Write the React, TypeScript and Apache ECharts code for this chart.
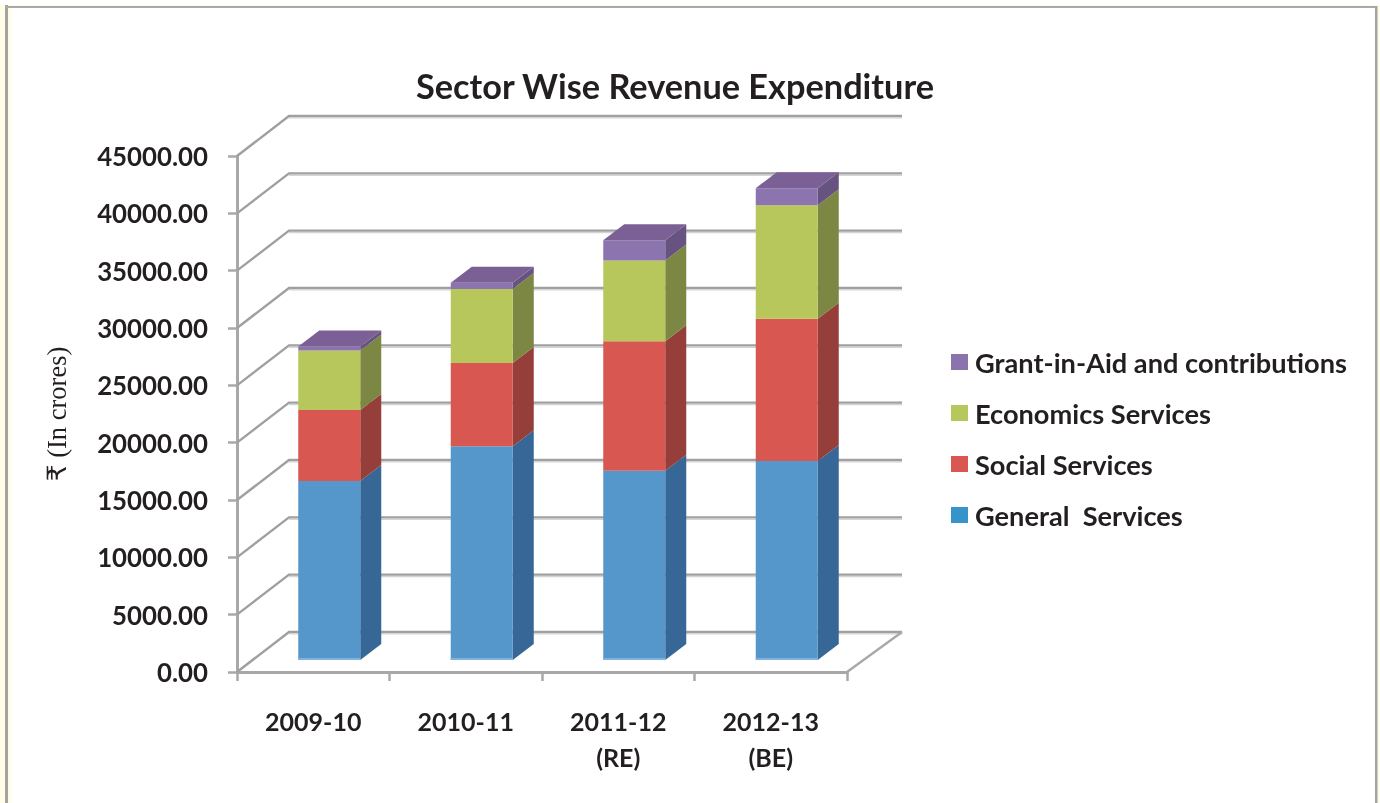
import React, { useEffect, useRef } from "react";
import * as echarts from "echarts";

const categories = ["2009-10", "2010-11", "2011-12\n(RE)", "2012-13\n(BE)"];
const generalServices = [15600, 18650, 16500, 17350];
const socialServices = [6200, 7250, 11300, 12400];
const economicsServices = [5200, 6450, 7050, 9900];
const grantInAid = [350, 550, 1750, 1500];
const yTicks = [0, 5000, 10000, 15000, 20000, 25000, 30000, 35000, 40000, 45000];
const seriesNames = ["General  Services", "Social Services", "Economics Services", "Grant-in-Aid and contributions"];
const faceColors = ["#5596cb", "#d85750", "#b7c75b", "#8c75ae"];
const sideColors = ["#376797", "#963e39", "#7b8742", "#66537f"];
const legendColors = ["#3794ca", "#d85750", "#b7c75b", "#8b74ad"];
const topColor = "#7a6094";

const FONT = "Lato";
const TEXT = "#231f20";
const WALL_DX = 52;
const WALL_DY = -40;
const BAR_SHIFT_X = 16;
const BAR_SHIFT_Y = -12;
const BAR_DX = 21;
const BAR_DY = -16;
const BAR_WIDTH = 62;

function gridRender(params: any, api: any) {
  const sys = params.coordSys;
  const v = api.value(1);
  const y = api.coord([0, v])[1];
  const backY = y + WALL_DY;
  const left = sys.x;
  const right = sys.x + sys.width;
  const pts = [[left, y], [left + WALL_DX, backY], [right + 55, backY]];
  const children: any[] = [
    { type: "polyline", shape: { points: [[left + WALL_DX, backY + 2], [right + 55, backY + 2]] }, style: { stroke: "#d4d4d4", lineWidth: 1.2, fill: "none" } },
    { type: "polyline", shape: { points: pts }, style: { stroke: "#a0a0a0", lineWidth: 2.4, fill: "none" } },
  ];
  if (v === 0) {
    children.push({ type: "line", shape: { x1: right, y1: y, x2: right + 55, y2: backY }, style: { stroke: "#a8a8a8", lineWidth: 2.4 } });
  }
  return { type: "group", children };
}

function barRender(index: number, isTop: boolean) {
  return (_params: any, api: any) => {
    const cat = api.value(0);
    const p0 = api.coord([cat, api.value(1)]);
    const p1 = api.coord([cat, api.value(2)]);
    const x = p0[0] + BAR_SHIFT_X - BAR_WIDTH / 2;
    const xr = x + BAR_WIDTH;
    const yb = p0[1] + BAR_SHIFT_Y;
    const yt = p1[1] + BAR_SHIFT_Y;
    const children: any[] = [
      { type: "polygon", shape: { points: [[xr, yt], [xr + BAR_DX, yt + BAR_DY], [xr + BAR_DX, yb + BAR_DY], [xr, yb]] }, style: { fill: sideColors[index] } },
      { type: "rect", shape: { x, y: yt, width: BAR_WIDTH, height: yb - yt }, style: { fill: faceColors[index] } },
    ];
    if (isTop) {
      children.push({ type: "polygon", shape: { points: [[x, yt], [xr, yt], [xr + BAR_DX, yt + BAR_DY], [x + BAR_DX, yt + BAR_DY]] }, style: { fill: topColor } });
    }
    if (index === 0) {
      children.push({ type: "rect", shape: { x, y: yb - 2, width: BAR_WIDTH, height: 2 }, style: { fill: "#7fb2de" } });
    }
    return { type: "group", children };
  };
}

export default function App() {
  const ref = useRef<HTMLDivElement>(null);
  useEffect(() => {
    document.body.style.margin = "0";
    const chart = echarts.init(ref.current!, null, { renderer: "svg" });
    const stacks = [generalServices, socialServices, economicsServices, grantInAid];
    const running = categories.map(() => 0);
    const barSeries = stacks.map((values, s) => {
      const data = values.map((v, i) => {
        const base = running[i];
        running[i] = base + v;
        return [i, base, base + v];
      });
      return {
        type: "custom",
        name: seriesNames[s],
        renderItem: barRender(s, s === stacks.length - 1),
        encode: { x: 0, y: [1, 2] },
        itemStyle: { color: legendColors[s] },
        data,
        silent: true,
        z: 5 + s,
      };
    });
    chart.setOption({
      animation: false,
      backgroundColor: "transparent",
      graphic: [
        { type: "rect", z: -10, shape: { x: 0, y: 0, width: 1380, height: 803 }, style: { fill: "#fffde6" } },
        { type: "rect", z: -9, shape: { x: 0, y: 0, width: 1380, height: 5 }, style: { fill: "#ffffff" } },
        { type: "rect", z: -9, shape: { x: 8, y: 8, width: 1367, height: 795 }, style: { fill: "#fffde6" } },
        { type: "rect", z: -8, shape: { x: 11, y: 8, width: 1364, height: 795 }, style: { fill: "#ffffff" } },
        { type: "rect", z: -7, shape: { x: 5, y: 5, width: 3, height: 798 }, style: { fill: "#a3a3a3" } },
        { type: "rect", z: -7, shape: { x: 5, y: 6, width: 1372, height: 2 }, style: { fill: "#a9a9a9" } },
        { type: "rect", z: -7, shape: { x: 1375, y: 6, width: 2.5, height: 797 }, style: { fill: "#a3a3a3" } },
      ],
      title: {
        text: "Sector Wise Revenue Expenditure",
        left: 670,
        top: 63,
        textAlign: "center",
        textStyle: { fontFamily: FONT, fontWeight: "bold", fontSize: 34.3, color: TEXT },
      },
      legend: {
        orient: "vertical",
        left: 946,
        top: 340,
        data: [3, 2, 1, 0].map((i) => ({ name: seriesNames[i], itemStyle: { color: legendColors[i] } })),
        icon: "rect",
        itemWidth: 17,
        itemHeight: 16,
        itemGap: 17,
        selectedMode: false,
        textStyle: { fontFamily: FONT, fontWeight: "bold", fontSize: 27.2, color: TEXT, padding: [0, 0, 0, 2], lineHeight: 34 },
      },
      grid: { left: 237, top: 156, width: 610, height: 516, containLabel: false },
      xAxis: {
        type: "category",
        data: categories,
        axisLine: { lineStyle: { color: "#a8a8a8", width: 3 } },
        axisTick: { show: true, length: 9, alignWithLabel: false, lineStyle: { color: "#a8a8a8", width: 2.5 } },
        axisLabel: { fontFamily: FONT, fontWeight: "bold", fontSize: 25, color: TEXT, margin: 31, lineHeight: 36, interval: 0 },
      },
      yAxis: {
        type: "value",
        min: 0,
        max: 45000,
        interval: 5000,
        name: "₹ (In crores)",
        nameLocation: "middle",
        nameRotate: 90,
        nameGap: 167,
        nameTextStyle: { fontFamily: "Liberation Serif, DejaVu Sans", fontSize: 26.5, color: TEXT },
        axisLine: { show: true, lineStyle: { color: "#a8a8a8", width: 3 } },
        axisTick: { show: true, length: 9, lineStyle: { color: "#a8a8a8", width: 2.5 } },
        splitLine: { show: false },
        axisLabel: {
          fontFamily: FONT,
          fontWeight: "bold",
          fontSize: 25.8,
          color: TEXT,
          margin: 29,
          formatter: (v: number) => v.toFixed(2),
        },
      },
      series: [
        {
          type: "custom",
          name: "gridlines",
          renderItem: gridRender,
          encode: { x: 0, y: 1 },
          data: yTicks.map((v) => [0, v]),
          silent: true,
          z: 1,
        },
        ...barSeries,
      ],
    });
    return () => chart.dispose();
  }, []);
  return <div ref={ref} style={{ position: "fixed", left: 0, top: 0, width: 1380, height: 803 }} />;
}
